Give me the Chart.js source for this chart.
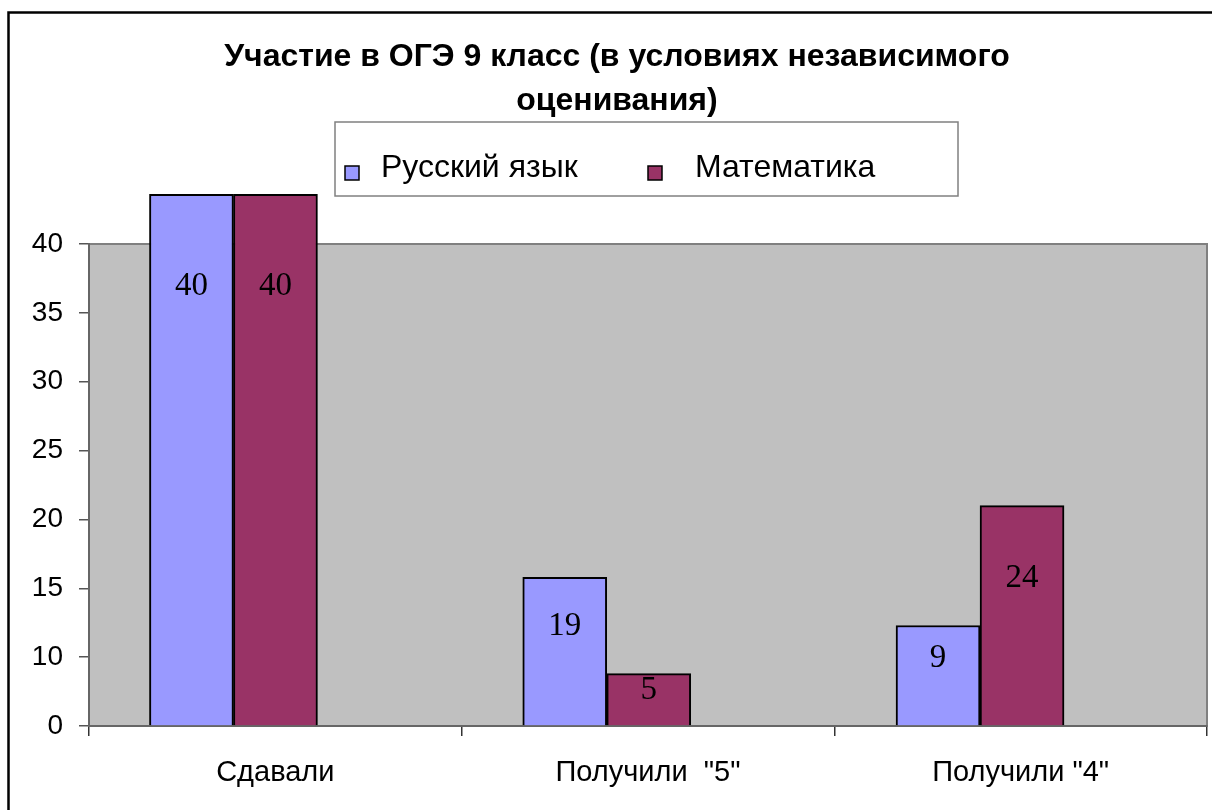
<!DOCTYPE html>
<html>
<head>
<meta charset="utf-8">
<script src="https://cdn.jsdelivr.net/npm/chart.js@4/dist/chart.umd.min.js"></script>
<style>
  html, body { margin: 0; padding: 0; background: #fff; }
  #wrap { width: 1212px; height: 810px; }
</style>
</head>
<body>
<div id="wrap"><canvas id="Mychart" width="1212" height="810"></canvas></div>
<script>
// categories and series
const categories = ['Сдавали', 'Получили  "5"', 'Получили "4"'];
const seriesNames = ['Русский язык', 'Математика'];

// bar heights, in axis steps (tick k sits at k*5)
const russianHeights = [38.6, 10.8, 7.3];
const mathHeights = [38.6, 3.8, 16.0];

// value labels printed on the bars
const russianLabels = ['40', '19', '9'];
const mathLabels = ['40', '5', '24'];

// the axis in the source skips "5", so labels are read as printed
const yTickLabels = ['0', '10', '15', '20', '25', '30', '35', '40'];

const barColors = ['#9999FF', '#993366'];
const valueLabels = [russianLabels, mathLabels];

const canvas = document.getElementById('Mychart');

// grey plot area + frame of the picture
const backdrop = {
  id: 'backdrop',
  beforeDraw(chart) {
    const ctx = chart.ctx;
    const a = chart.chartArea;
    ctx.save();
    ctx.fillStyle = '#C0C0C0';
    ctx.fillRect(a.left, a.top, a.right - a.left, a.bottom - a.top);
    ctx.strokeStyle = '#808080';
    ctx.lineWidth = 2;
    ctx.strokeRect(a.left, a.top, a.right - a.left, a.bottom - a.top);
    // outer frame (only top and left edges are inside the picture)
    ctx.strokeStyle = '#000';
    ctx.lineWidth = 2.5;
    ctx.beginPath();
    ctx.moveTo(8.5, 810);
    ctx.lineTo(8.5, 12.5);
    ctx.lineTo(1212, 12.5);
    ctx.stroke();
    ctx.restore();
  }
};

// legend in its own box, drawn by hand
const boxLegend = {
  id: 'boxLegend',
  afterDraw(chart) {
    const ctx = chart.ctx;
    ctx.save();
    ctx.fillStyle = '#fff';
    ctx.fillRect(335, 122, 623, 74);
    ctx.strokeStyle = '#808080';
    ctx.lineWidth = 1.5;
    ctx.strokeRect(335, 122, 623, 74);
    const items = [{ sx: 345, tx: 381 }, { sx: 648, tx: 695 }];
    ctx.font = '32px "Liberation Sans", Arial, sans-serif';
    ctx.textBaseline = 'middle';
    ctx.textAlign = 'left';
    chart.data.datasets.forEach((ds, i) => {
      const it = items[i];
      ctx.fillStyle = ds.backgroundColor;
      ctx.fillRect(it.sx, 166, 14, 14);
      ctx.strokeStyle = '#000';
      ctx.lineWidth = 1.5;
      ctx.strokeRect(it.sx, 166, 14, 14);
      ctx.fillStyle = '#000';
      ctx.fillText(ds.label, it.tx, 168);
    });
    ctx.restore();
  }
};

// numbers written inside the bars
const barValues = {
  id: 'barValues',
  afterDatasetsDraw(chart) {
    const ctx = chart.ctx;
    ctx.save();
    ctx.font = '33px "Liberation Serif", "Times New Roman", serif';
    ctx.fillStyle = '#000';
    ctx.textAlign = 'center';
    ctx.textBaseline = 'middle';
    chart.data.datasets.forEach((ds, i) => {
      chart.getDatasetMeta(i).data.forEach((bar, j) => {
        const h = bar.base - bar.y;
        const off = Math.min(h * 0.33, 92);
        ctx.fillText(valueLabels[i][j], bar.x, bar.y + off);
      });
    });
    ctx.restore();
  }
};

const chart = new Chart(canvas, {
  type: 'bar',
  data: {
    labels: categories,
    datasets: [
      {
        label: seriesNames[0],
        data: russianHeights.map((v, i) => ({ x: i, y: v })),
        backgroundColor: barColors[0],
        borderColor: '#000',
        borderWidth: 2,
        xAxisID: 'xb',
        clip: false
      },
      {
        label: seriesNames[1],
        data: mathHeights.map((v, i) => ({ x: i, y: v })),
        backgroundColor: barColors[1],
        borderColor: '#000',
        borderWidth: 2,
        xAxisID: 'xb',
        clip: false
      }
    ]
  },
  options: {
    responsive: false,
    animation: false,
    barThickness: 84,
    layout: { padding: { left: 27, right: 5, top: 0, bottom: 0 } },
    plugins: {
      legend: { display: false },
      tooltip: { enabled: false },
      title: {
        display: true,
        text: ['Участие в ОГЭ 9 класс (в условиях независимого', 'оценивания)'],
        color: '#000',
        font: { family: '"Liberation Sans", Arial, sans-serif', size: 32, weight: 'bold', lineHeight: 1.375 },
        padding: { top: 35, bottom: 121 }
      }
    },
    scales: {
      x: {
        type: 'category',
        offset: true,
        grid: { offset: true, drawOnChartArea: false, tickLength: 10, color: '#333', lineWidth: 1.5 },
        border: { color: '#666', width: 2 },
        ticks: {
          color: '#000',
          padding: 20,
          maxRotation: 0,
          font: { family: '"Liberation Sans", Arial, sans-serif', size: 29 }
        },
        afterFit(scale) { scale.height = 84; }
      },
      xb: {
        type: 'linear',
        display: false,
        offset: false,
        min: -0.387,
        max: 2.608
      },
      y: {
        min: 0,
        max: 35,
        ticks: {
          stepSize: 5,
          color: '#000',
          padding: 16,
          font: { family: '"Liberation Sans", Arial, sans-serif', size: 28 },
          callback: (v, i) => yTickLabels[i]
        },
        grid: { drawOnChartArea: false, tickLength: 10, color: '#555', lineWidth: 1.5 },
        border: { color: '#666', width: 2 },
        afterFit(scale) { scale.width = 62; }
      }
    }
  },
  plugins: [backdrop, boxLegend, barValues]
});
</script>
</body>
</html>
